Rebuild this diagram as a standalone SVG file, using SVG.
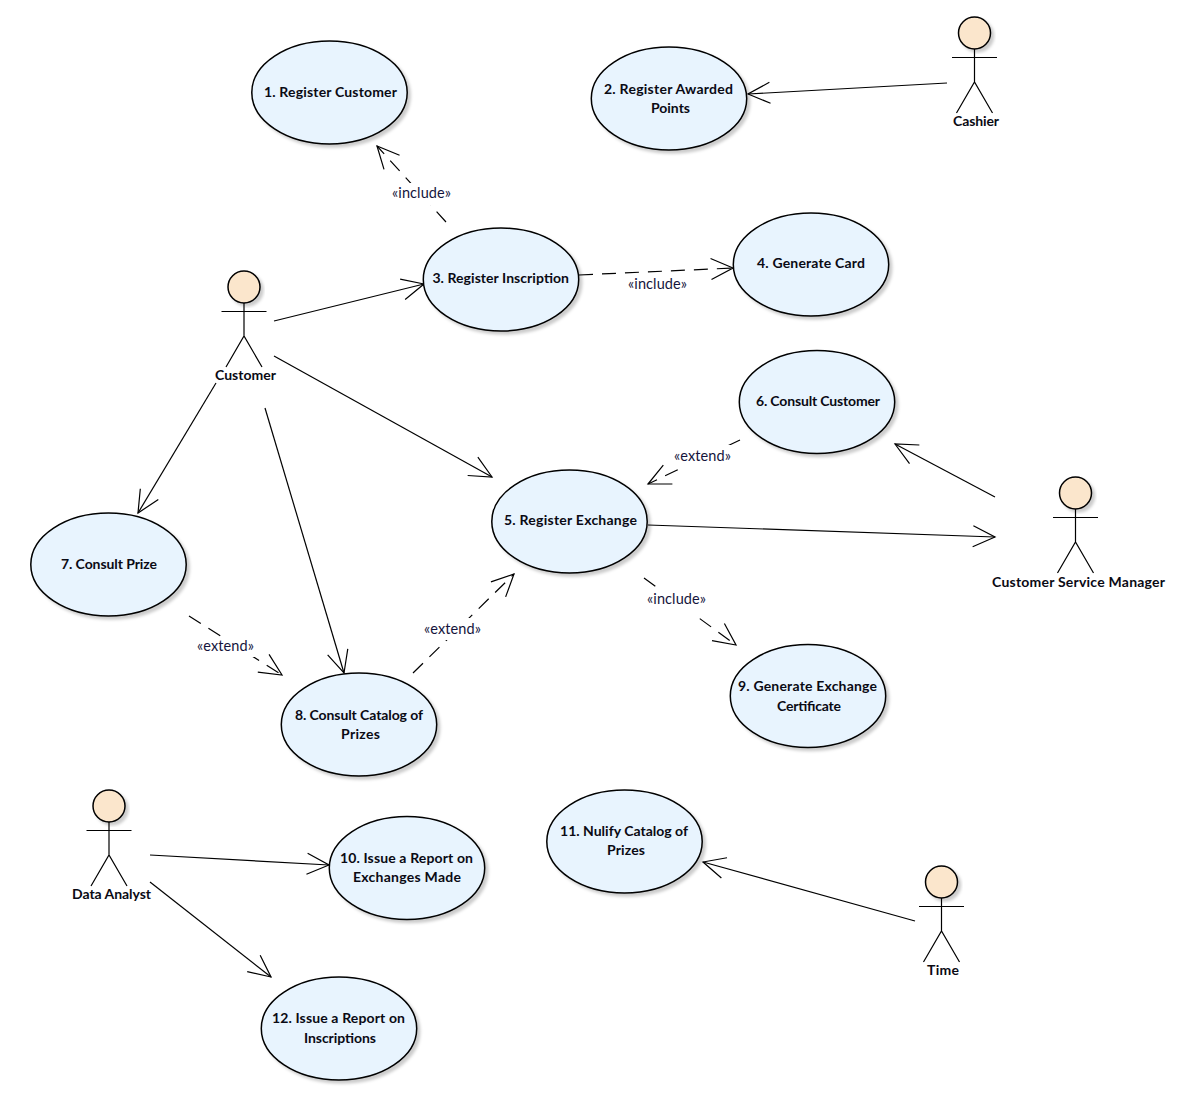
<svg xmlns="http://www.w3.org/2000/svg" width="1197" height="1113" viewBox="0 0 1197 1113">
<style>
text{font-family:Lato,"Liberation Sans",sans-serif;text-anchor:middle;fill:#0a0a14}
.n{font-size:14px;font-weight:700}
.l{font-size:14.5px;font-weight:400;fill:#14143c}
.u{fill:#e8f4fe;stroke:#000;stroke-width:1.5;filter:url(#s)}
.h{fill:#fbe6cc;stroke:#000;stroke-width:1.5;filter:url(#s)}
.a{fill:none;stroke:#000;stroke-width:1.2}
.c{fill:none;stroke:#000;stroke-width:1.2;marker-end:url(#o)}
.d{stroke-dasharray:14 9}
.w{fill:#fff;stroke:none}
</style>
<defs>
<filter id="s" x="-10%" y="-10%" width="125%" height="125%"><feDropShadow dx="3" dy="3" stdDeviation="1.5" flood-color="#000" flood-opacity=".2"/></filter>
<marker id="o" markerUnits="userSpaceOnUse" markerWidth="30" markerHeight="26" viewBox="-25 -13 30 26" refX="0" refY="0" orient="auto"><path d="M-22,-10.5L0,0L-22,10.5" fill="none" stroke="#000" stroke-width="1.2"/></marker>
<g id="fig"><path class="a" d="M0,16V49M-22.5,24.500H22.5M-18,80L0,49L18,80"/></g>
</defs>
<rect width="1197" height="1113" fill="#fff"/>
<g id="connectors">
<path class="c" d="M947,83L748,94"/>
<path class="c" d="M274,321L424,284"/>
<path class="c" d="M274,356L492,477"/>
<path class="c" d="M216,383L138,513"/>
<path class="c" d="M265,408L344,673"/>
<path class="c d" d="M446,222L377,146"/>
<path class="c d" d="M579,275L733,268"/>
<path class="c d" d="M740,440L648,484"/>
<path class="c" d="M648,525L995,537"/>
<path class="c" d="M995,497L895,444"/>
<path class="c d" d="M644,578L736,645"/>
<path class="c d" d="M189,616L282,675"/>
<path class="c d" d="M413,673L514,574"/>
<path class="c" d="M150,855L329,865"/>
<path class="c" d="M150,882L271,977"/>
<path class="c" d="M915,921L703,862"/>
<rect class="w" x="390" y="183" width="63" height="22"/><text class="l" x="421.500" y="198" textLength="59">«include»</text>
<rect class="w" x="626" y="275" width="63" height="18"/><text class="l" x="657.500" y="289" textLength="59">«include»</text>
<rect class="w" x="672" y="445" width="61" height="22"/><text class="l" x="702.500" y="461" textLength="57">«extend»</text>
<rect class="w" x="645" y="590" width="63" height="24"/><text class="l" x="676.500" y="604" textLength="59">«include»</text>
<rect class="w" x="195" y="637" width="61" height="20"/><text class="l" x="225.500" y="651" textLength="57">«extend»</text>
<rect class="w" x="422" y="618" width="61" height="22"/><text class="l" x="452.500" y="634" textLength="57">«extend»</text>
</g>
<g id="uc1"><ellipse class="u" cx="329.500" cy="92.500" rx="77.700" ry="51.500"/><text class="n" x="330.500" y="97" textLength="133">1. Register Customer</text></g>
<g id="uc2"><ellipse class="u" cx="669" cy="98.500" rx="77.700" ry="51.500"/><text class="n" x="668.500" y="94" textLength="129">2. Register Awarded</text><text class="n" x="670.500" y="113" textLength="39">Points</text></g>
<g id="uc3"><ellipse class="u" cx="501" cy="279.500" rx="77.700" ry="51.500"/><text class="n" x="500.700" y="283" textLength="136.500">3. Register Inscription</text></g>
<g id="uc4"><ellipse class="u" cx="811" cy="264.500" rx="77.700" ry="51.500"/><text class="n" x="811" y="268" textLength="108">4. Generate Card</text></g>
<g id="uc5"><ellipse class="u" cx="569.500" cy="521.500" rx="77.700" ry="51.500"/><text class="n" x="570.500" y="525" textLength="133">5. Register Exchange</text></g>
<g id="uc6"><ellipse class="u" cx="817" cy="402" rx="77.700" ry="51.500"/><text class="n" x="818" y="406" textLength="124">6. Consult Customer</text></g>
<g id="uc7"><ellipse class="u" cx="108.500" cy="564.500" rx="77.700" ry="51.500"/><text class="n" x="109" y="569" textLength="96">7. Consult Prize</text></g>
<g id="uc8"><ellipse class="u" cx="359" cy="724.500" rx="77.700" ry="51.500"/><text class="n" x="359" y="720" textLength="128">8. Consult Catalog of</text><text class="n" x="360.500" y="739" textLength="39">Prizes</text></g>
<g id="uc9"><ellipse class="u" cx="808" cy="696" rx="77.700" ry="51.500"/><text class="n" x="807.500" y="691" textLength="139">9. Generate Exchange</text><text class="n" x="809" y="711" textLength="64">Certificate</text></g>
<g id="uc10"><ellipse class="u" cx="407" cy="868" rx="77.700" ry="51.500"/><text class="n" x="406.500" y="863" textLength="133">10. Issue a Report on</text><text class="n" x="407" y="882" textLength="108">Exchanges Made</text></g>
<g id="uc11"><ellipse class="u" cx="624.500" cy="841.500" rx="77.700" ry="51.500"/><text class="n" x="624" y="836" textLength="128">11. Nulify Catalog of</text><text class="n" x="626" y="855" textLength="38">Prizes</text></g>
<g id="uc12"><ellipse class="u" cx="339" cy="1028.500" rx="77.700" ry="51.500"/><text class="n" x="338.500" y="1023" textLength="133">12. Issue a Report on</text><text class="n" x="340" y="1043" textLength="72">Inscriptions</text></g>
<g id="a-cashier"><use href="#fig" x="974.500" y="33"/><circle class="h" cx="974.500" cy="33" r="16"/><text class="n" x="976" y="126" textLength="46">Cashier</text></g>
<g id="a-customer"><use href="#fig" x="244" y="287"/><circle class="h" cx="244" cy="287" r="16"/><text class="n" x="245.500" y="380" textLength="61">Customer</text></g>
<g id="a-csm"><use href="#fig" x="1075.500" y="493"/><circle class="h" cx="1075.500" cy="493" r="16"/><text class="n" x="1078.500" y="587" textLength="173">Customer Service Manager</text></g>
<g id="a-analyst"><use href="#fig" x="109" y="806"/><circle class="h" cx="109" cy="806" r="16"/><text class="n" x="111.500" y="899" textLength="79">Data Analyst</text></g>
<g id="a-time"><use href="#fig" x="941.500" y="882"/><circle class="h" cx="941.500" cy="882" r="16"/><text class="n" x="943" y="975" textLength="32">Time</text></g>
</svg>
